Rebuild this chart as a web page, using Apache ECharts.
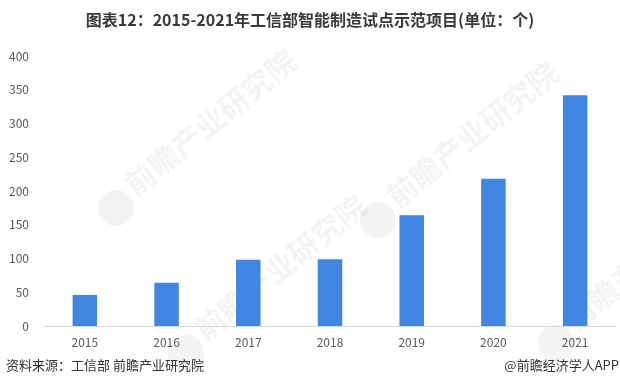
<!DOCTYPE html>
<html>
<head>
<meta charset="utf-8">
<script src="https://cdn.jsdelivr.net/npm/echarts@6/dist/echarts.min.js"></script>
<style>
html,body{margin:0;padding:0;background:#fff;}
#chart{width:620px;height:388px;}
</style>
</head>
<body>
<div id="chart"></div>
<script>
var categories = ['2015', '2016', '2017', '2018', '2019', '2020', '2021'];
var projectCounts = [46, 64, 98, 99, 164, 218, 342];
var yTicks = { min: 0, max: 400, interval: 50 };
var titleText = '图表12：2015-2021年工信部智能制造试点示范项目(单位：个)';
var sourceText = '资料来源：工信部 前瞻产业研究院';
var creditText = '@前瞻经济学人APP';
var watermarkText = '前瞻产业研究院';

var chart = echarts.init(document.getElementById('chart'), null, { renderer: 'canvas' });
var font = '"Microsoft YaHei","Noto Sans CJK SC","Noto Sans",sans-serif';
var wmColor = 'rgba(200,200,200,0.2)';

function watermark(x, y) {
  return [
    { type: 'circle', shape: { cx: x - 14, cy: y + 8, r: 18 }, style: { fill: wmColor }, z: -1 },
    { type: 'text', x: x + 8, y: y, rotation: 0.68, style: { text: watermarkText, font: 'bold 30px ' + font, fill: wmColor, textVerticalAlign: 'bottom' }, z: -1 }
  ];
}

var graphics = [
  { type: 'text', left: 'center', top: 12, style: { text: titleText, font: 'bold 16px ' + font, fill: '#3a3a3a' } },
  { type: 'text', left: 6, top: 359, style: { text: sourceText, font: '13px ' + font, fill: '#333' } },
  { type: 'text', right: 1, top: 359, style: { text: creditText, font: '13px ' + font, fill: '#333' } }
].concat(watermark(130, 200), watermark(392, 212), watermark(200, 345), watermark(570, 335));

chart.setOption({
  backgroundColor: '#fff',
  animation: false,
  textStyle: { fontFamily: font },
  graphic: graphics,
  grid: { left: 44, right: 4, top: 56, bottom: 62, containLabel: false },
  xAxis: {
    type: 'category',
    data: categories,
    axisLine: { show: true, lineStyle: { color: '#d9d9d9', width: 1 } },
    axisTick: { show: false },
    axisLabel: { color: '#595959', fontSize: 12, margin: 10 }
  },
  yAxis: {
    type: 'value',
    min: yTicks.min,
    max: yTicks.max,
    interval: yTicks.interval,
    axisLine: { show: false },
    axisTick: { show: false },
    splitLine: { show: false },
    axisLabel: { color: '#595959', fontSize: 12, margin: 15 }
  },
  series: [{
    type: 'bar',
    data: projectCounts,
    barWidth: '30%',
    itemStyle: { color: '#4286e2' }
  }]
});
</script>
</body>
</html>
